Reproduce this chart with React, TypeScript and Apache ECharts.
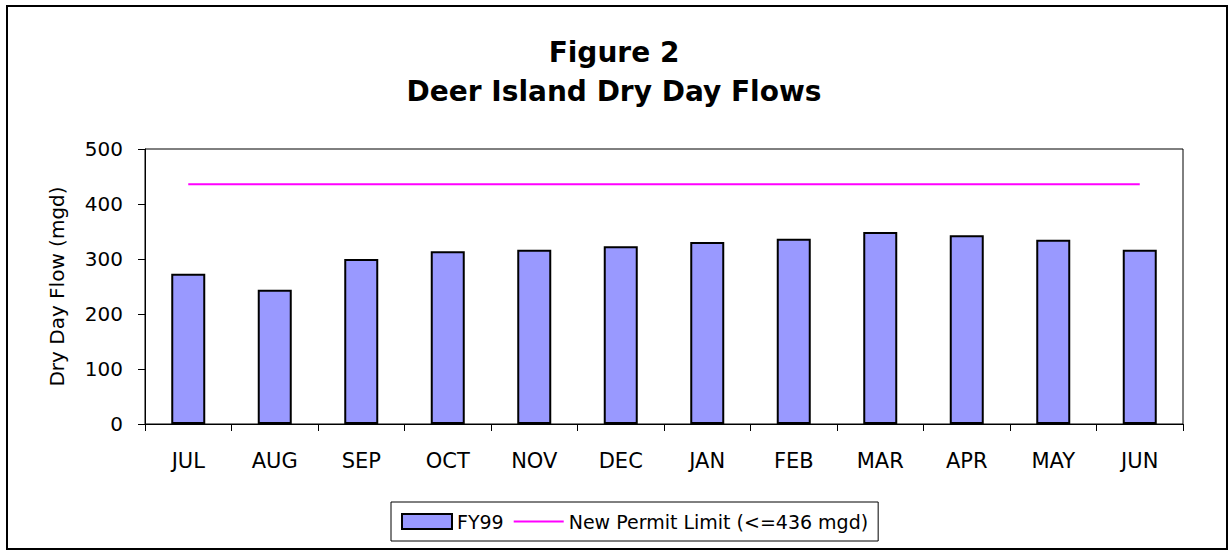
import React, { useEffect, useRef } from "react";
import * as echarts from "echarts";

const months = ["JUL", "AUG", "SEP", "OCT", "NOV", "DEC", "JAN", "FEB", "MAR", "APR", "MAY", "JUN"];
const fy99Flows = [273, 244, 300, 314, 317, 323, 331, 337, 349, 343, 335, 317];
const permitLimit = [436, 436, 436, 436, 436, 436, 436, 436, 436, 436, 436, 436];
const yTicks = { min: 0, max: 500, interval: 100 };
const titleLines = ["Figure 2", "Deer Island Dry Day Flows"];
const seriesNames = ["FY99", "New Permit Limit (<=436 mgd)"];
const yAxisName = "Dry Day Flow (mgd)";

const FONT = "DejaVu Sans";

export default function App() {
  const ref = useRef<HTMLDivElement>(null);
  useEffect(() => {
    if (!ref.current) return;
    const chart = echarts.init(ref.current, null, { renderer: "svg" });
    chart.setOption({
      animation: false,
      backgroundColor: "#ffffff",
      title: {
        text: titleLines.join("\n"),
        left: "center",
        top: 28,
        textStyle: {
          fontFamily: FONT,
          fontWeight: "bold",
          fontSize: 28,
          lineHeight: 39,
          color: "#000",
          align: "center",
        },
      },
      graphic: [
        {
          type: "rect",
          shape: { x: 7, y: 6, width: 1220, height: 543 },
          style: { fill: "none", stroke: "#000", lineWidth: 2 },
          silent: true,
          z: -1,
        },
      ],
      legend: {
        left: 391,
        top: 502,
        orient: "horizontal",
        padding: [10, 10],
        itemGap: 10,
        itemWidth: 50,
        itemHeight: 15,
        borderColor: "#000",
        borderWidth: 1,
        textStyle: { fontFamily: FONT, fontSize: 19, color: "#000" },
        data: [
          { name: seriesNames[0], icon: "rect" },
          { name: seriesNames[1], icon: "path://M0,0H100V4H0Z" },
        ],
      },
      grid: {
        left: 145,
        right: 45,
        top: 149,
        height: 275,
        show: true,
        borderColor: "#000",
        borderWidth: 1,
        backgroundColor: "transparent",
      },
      xAxis: {
        type: "category",
        data: months,
        boundaryGap: true,
        axisLine: { lineStyle: { color: "#000", width: 1 } },
        axisTick: { show: true, length: 7, lineStyle: { color: "#000" } },
        axisLabel: { fontFamily: FONT, fontSize: 21, color: "#000", margin: 26 },
        splitLine: { show: false },
      },
      yAxis: {
        type: "value",
        min: yTicks.min,
        max: yTicks.max,
        interval: yTicks.interval,
        name: yAxisName,
        nameLocation: "middle",
        nameGap: 78,
        nameRotate: 90,
        nameTextStyle: { fontFamily: FONT, fontSize: 20, color: "#000" },
        axisLine: { show: true, lineStyle: { color: "#000", width: 1 } },
        axisTick: { show: true, length: 7, lineStyle: { color: "#000" } },
        axisLabel: { fontFamily: FONT, fontSize: 20, color: "#000", margin: 22 },
        splitLine: { show: false },
      },
      series: [
        {
          name: seriesNames[0],
          type: "bar",
          data: fy99Flows,
          barWidth: 34,
          itemStyle: { color: "#9999FF", borderColor: "#000", borderWidth: 2 },
        },
        {
          name: seriesNames[1],
          type: "line",
          data: permitLimit,
          symbol: "none",
          lineStyle: { color: "#FF00FF", width: 2 },
          itemStyle: { color: "#FF00FF" },
        },
      ],
    });
    return () => chart.dispose();
  }, []);
  return (
    <div
      ref={ref}
      style={{ position: "fixed", left: 0, top: 0, width: 1228, height: 552 }}
    />
  );
}
